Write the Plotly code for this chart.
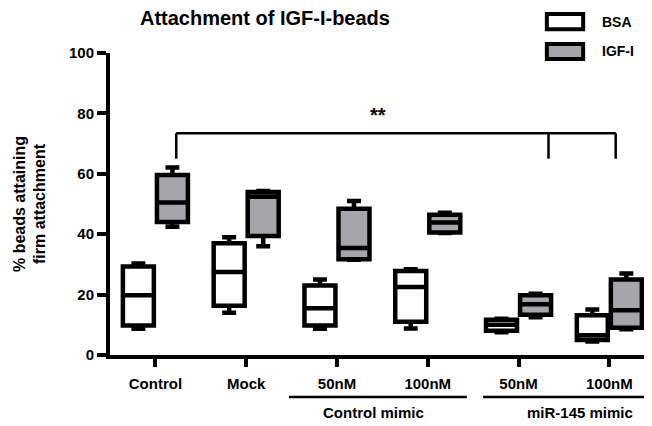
import plotly.graph_objects as go

# ---------------- data ----------------
categories = ["Control", "Mock", "50nM", "100nM", "50nM", "100nM"]
positions = [0, 1, 2, 3, 4, 5]
groups = ["Control mimic", "miR-145 mimic"]
series_names = ["BSA", "IGF-I"]

bsa_min = [8.7, 14.0, 8.7, 8.8, 7.5, 4.5]
bsa_q1 = [9.8, 16.3, 9.8, 11.0, 8.0, 5.0]
bsa_med = [19.8, 27.5, 15.5, 22.5, 10.0, 6.5]
bsa_q3 = [29.3, 37.0, 23.0, 27.8, 11.7, 13.2]
bsa_max = [30.3, 39.0, 25.0, 28.4, 12.0, 15.1]

igf_min = [42.5, 36.0, 31.5, 40.4, 12.5, 8.5]
igf_q1 = [44.0, 39.4, 31.7, 40.6, 13.3, 9.0]
igf_med = [50.5, 52.4, 35.4, 43.9, 16.8, 14.8]
igf_q3 = [59.6, 54.0, 48.4, 46.4, 19.8, 25.0]
igf_max = [62.1, 54.3, 51.0, 47.1, 20.3, 27.0]

FONT = "Liberation Sans, Arial, sans-serif"
COLORS = ["white", "#a6a5aa"]

fig = go.Figure()
for name, col, mn, q1, md, q3, mx in [
    (series_names[0], COLORS[0], bsa_min, bsa_q1, bsa_med, bsa_q3, bsa_max),
    (series_names[1], COLORS[1], igf_min, igf_q1, igf_med, igf_q3, igf_max),
]:
    fig.add_trace(go.Box(
        name=name, x=positions, q1=q1, median=md, q3=q3,
        lowerfence=mn, upperfence=mx, boxpoints=False,
        fillcolor=col, line=dict(color="black", width=4.5), whiskerwidth=0.45,
        showlegend=False,
    ))

# legend (drawn manually to mimic wide rectangle keys)
leg_y = [1.104, 1.005]
for name, col, ly in zip(series_names, COLORS, leg_y):
    fig.add_shape(type="rect", xref="paper", yref="paper",
                  x0=0.806, x1=0.873, y0=ly - 0.025, y1=ly + 0.025,
                  fillcolor=col, line=dict(color="black", width=4))
    fig.add_annotation(x=0.904, y=ly, xref="paper", yref="paper", text=name,
                       showarrow=False, xanchor="left", yanchor="middle",
                       font=dict(family=FONT, size=14, color="black", weight="bold"))

# significance bracket
br_y, br_low = 73.4, 65
br_x = [0.23, 4.33, 5.07]
fig.add_shape(type="line", x0=br_x[0], x1=br_x[2], y0=br_y, y1=br_y,
              xref="x", yref="y", line=dict(color="black", width=2.5))
for bx in br_x:
    fig.add_shape(type="line", x0=bx, x1=bx, y0=br_low, y1=br_y,
                  xref="x", yref="y", line=dict(color="black", width=2.5))
fig.add_annotation(x=2.45, y=79.5, xref="x", yref="y", text="**", showarrow=False,
                   font=dict(family=FONT, size=20, color="black", weight="bold"))

# group underlines and labels
grp_spans = [(1.47, 3.43), (3.61, 5.47)]
grp_label_x = [2.4, 4.68]
for (g0, g1), gx, gname in zip(grp_spans, grp_label_x, groups):
    fig.add_shape(type="line", x0=g0, x1=g1, y0=-0.139, y1=-0.139,
                  xref="x", yref="paper", line=dict(color="black", width=2.5))
    fig.add_annotation(x=gx, y=-0.192, xref="x", yref="paper", text=gname,
                       showarrow=False, yanchor="middle",
                       font=dict(family=FONT, size=15, color="black", weight="bold"))

fig.update_layout(
    width=644, height=418,
    margin=dict(l=102, r=0, t=45, b=71),
    paper_bgcolor="white", plot_bgcolor="white",
    boxmode="group", boxgap=0.25, boxgroupgap=0.09,
    showlegend=False,
    title=dict(text="Attachment of IGF-I-beads", x=0.399, xanchor="center",
               y=0.976, yanchor="middle",
               font=dict(family=FONT, size=20, color="black", weight="bold")),
    xaxis=dict(range=[-0.5, 5.47], tickmode="array", tickvals=positions,
               ticktext=categories, showline=True, linecolor="black", linewidth=4,
               ticks="outside", ticklen=8, tickwidth=3.5, tickcolor="black",
               showgrid=False, zeroline=False, ticklabelstandoff=4,
               tickfont=dict(family=FONT, size=15, color="black", weight="bold")),
    yaxis=dict(range=[0, 100], tickvals=[0, 20, 40, 60, 80, 100],
               showline=True, linecolor="black", linewidth=4,
               ticks="outside", ticklen=9, tickwidth=3.5, tickcolor="black",
               showgrid=False, zeroline=False,
               tickfont=dict(family=FONT, size=15, color="black", weight="bold"),
               title=dict(text="% beads attaining<br>firm attachment", standoff=20,
                          font=dict(family=FONT, size=16, color="black", weight="bold"))),
)

fig.write_html("out.html")
